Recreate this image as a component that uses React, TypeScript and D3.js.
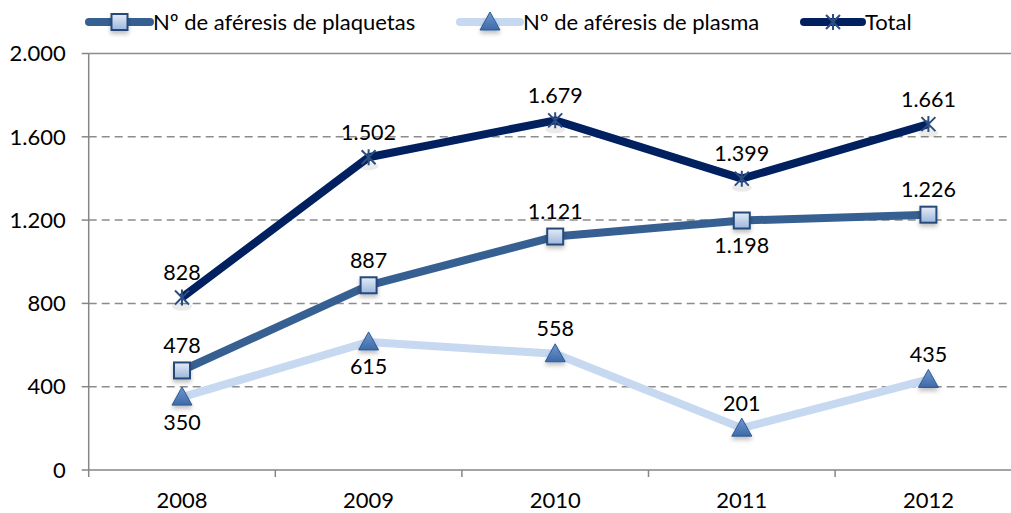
import React, { useEffect, useRef } from 'react';
import * as d3 from 'd3';

const years = ['2008', '2009', '2010', '2011', '2012'];
const plaquetas = [478, 887, 1121, 1198, 1226];
const plasma = [350, 615, 558, 201, 435];
const total = [828, 1502, 1679, 1399, 1661];
const yTicks = [0, 400, 800, 1200, 1600, 2000];

// where each value label sits relative to its point
const plaqLabelPos = ['above', 'above', 'above', 'below', 'above'];
const plasmaLabelPos = ['below', 'below', 'above', 'above', 'above'];
const totalLabelPos = ['above', 'above', 'above', 'above', 'above'];

const fmt = (v: number) => d3.format(',')(v).replace(/,/g, '.');

function App() {
  const svgRef = useRef<SVGSVGElement>(null);

  useEffect(() => {
    const width = 1011;
    const height = 513;
    const svg = d3.select(svgRef.current);
    svg.selectAll('*').remove();
    svg.attr('width', width).attr('height', height);

    const left = 88.7;
    const band = 186.6;
    const x = d3.scaleBand().domain(years).range([left, left + band * years.length]).padding(0);
    const cx = (d: string) => (x(d) as number) + band / 2;
    const y = d3.scaleLinear().domain([0, 2000]).range([470, 53.5]);

    const font = 'Lato, "Open Sans", sans-serif';
    const defs = svg.append('defs');

    const sq = defs.append('linearGradient').attr('id', 'sqGrad').attr('x1', 0).attr('y1', 0).attr('x2', 0).attr('y2', 1);
    sq.append('stop').attr('offset', '0%').attr('stop-color', '#e4ecf7');
    sq.append('stop').attr('offset', '100%').attr('stop-color', '#9bb6dc');
    const tri = defs.append('linearGradient').attr('id', 'triGrad').attr('x1', 0).attr('y1', 0).attr('x2', 0).attr('y2', 1);
    tri.append('stop').attr('offset', '0%').attr('stop-color', '#6f98cf');
    tri.append('stop').attr('offset', '100%').attr('stop-color', '#3d6aa8');
    const sh = defs.append('filter').attr('id', 'shadow').attr('x', '-50%').attr('y', '-50%').attr('width', '200%').attr('height', '200%');
    sh.append('feDropShadow').attr('dx', 0).attr('dy', 3).attr('stdDeviation', 2).attr('flood-color', '#000').attr('flood-opacity', 0.25);

    // grid
    const g = svg.append('g');
    g.selectAll('.grid')
      .data(yTicks.filter(t => t > 0))
      .enter()
      .append('line')
      .attr('x1', left)
      .attr('x2', width)
      .attr('y1', d => y(d))
      .attr('y2', d => y(d))
      .attr('stroke', '#8c8c8c')
      .attr('stroke-width', 1.5)
      .attr('stroke-dasharray', d => (d === 2000 ? null : '8,5'));

    // y axis
    g.append('line').attr('x1', left).attr('x2', left).attr('y1', y(2000)).attr('y2', y(0) + 7)
      .attr('stroke', '#868686').attr('stroke-width', 1.5);
    g.selectAll('.ytick').data(yTicks).enter().append('line')
      .attr('x1', left - 7).attr('x2', left).attr('y1', d => y(d)).attr('y2', d => y(d))
      .attr('stroke', '#868686').attr('stroke-width', 1.5);
    g.selectAll('.ylab').data(yTicks).enter().append('text')
      .attr('x', left - 23).attr('y', d => y(d)).attr('dy', '0.35em')
      .attr('text-anchor', 'end').attr('font-family', font).attr('font-size', 22).attr('fill', '#000')
      .text(d => fmt(d));

    // x axis
    g.append('line').attr('x1', left).attr('x2', width).attr('y1', y(0)).attr('y2', y(0))
      .attr('stroke', '#868686').attr('stroke-width', 1.5);
    g.selectAll('.xtick').data(years.slice(1)).enter().append('line')
      .attr('x1', d => x(d) as number).attr('x2', d => x(d) as number)
      .attr('y1', y(0)).attr('y2', y(0) + 7)
      .attr('stroke', '#868686').attr('stroke-width', 1.5);
    g.selectAll('.xlab').data(years).enter().append('text')
      .attr('x', d => cx(d)).attr('y', 508)
      .attr('text-anchor', 'middle').attr('font-family', font).attr('font-size', 22).attr('fill', '#000')
      .text(d => d);

    const line = d3.line<number>().x((_, i) => cx(years[i])).y(d => y(d));

    const series = [
      { values: plasma, color: '#c6d9f1', marker: 'tri', labels: plasmaLabelPos },
      { values: plaquetas, color: '#376092', marker: 'sq', labels: plaqLabelPos },
      { values: total, color: '#002060', marker: 'star', labels: totalLabelPos },
    ];

    const drawMarker = (sel: any, type: string, px: number, py: number) => {
      if (type === 'sq') {
        sel.append('rect').attr('x', px - 8).attr('y', py - 8).attr('width', 16).attr('height', 16)
          .attr('fill', 'url(#sqGrad)').attr('stroke', '#254a7a').attr('stroke-width', 2).attr('filter', 'url(#shadow)');
      } else if (type === 'tri') {
        sel.append('path').attr('d', `M${px},${py - 10}L${px + 10},${py + 8}L${px - 10},${py + 8}Z`)
          .attr('fill', 'url(#triGrad)').attr('stroke', '#2f5a94').attr('stroke-width', 1).attr('filter', 'url(#shadow)');
      } else {
        const s = 7;
        sel.append('path')
          .attr('d', `M${px - s},${py - s}L${px + s},${py + s}M${px - s},${py + s}L${px + s},${py - s}M${px},${py - s - 1}L${px},${py + s + 1}`)
          .attr('stroke', '#2c4d80').attr('stroke-width', 2).attr('fill', 'none');
      }
    };

    series.forEach(s => {
      const sg = svg.append('g');
      sg.append('path').datum(s.values).attr('d', line)
        .attr('fill', 'none').attr('stroke', s.color).attr('stroke-width', 8).attr('stroke-linejoin', 'round');
      if (s.marker === 'star') {
        sg.selectAll('.sh').data(s.values).enter().append('ellipse')
          .attr('cx', (_, i) => cx(years[i])).attr('cy', d => y(d) + 9).attr('rx', 10).attr('ry', 4)
          .attr('fill', '#000').attr('opacity', 0.08);
      }
      s.values.forEach((v, i) => drawMarker(sg, s.marker, cx(years[i]), y(v)));
    });

    // value labels on top
    series.forEach(s => {
      svg.append('g').selectAll('text').data(s.values).enter().append('text')
        .attr('x', (_, i) => cx(years[i]))
        .attr('y', (d, i) => y(d) + (s.labels[i] === 'above' ? -25 : 25))
        .attr('dy', '0.35em')
        .attr('text-anchor', 'middle').attr('font-family', font).attr('font-size', 21.5).attr('fill', '#000')
        .text(d => fmt(d));
    });

    // legend
    const legend = [
      { label: 'Nº de aféresis de plaquetas', color: '#376092', marker: 'sq', x0: 89, x1: 150 },
      { label: 'Nº de aféresis de plasma', color: '#c6d9f1', marker: 'tri', x0: 460, x1: 520 },
      { label: 'Total', color: '#002060', marker: 'star', x0: 804, x1: 862 },
    ];
    const ly = 22;
    legend.forEach(l => {
      const lg = svg.append('g');
      lg.append('line').attr('x1', l.x0).attr('x2', l.x1).attr('y1', ly).attr('y2', ly)
        .attr('stroke', l.color).attr('stroke-width', 8).attr('stroke-linecap', 'round');
      drawMarker(lg, l.marker, (l.x0 + l.x1) / 2, ly);
      lg.append('text').attr('x', l.x1 + 3).attr('y', ly).attr('dy', '0.35em')
        .attr('font-family', font).attr('font-size', 22).attr('fill', '#000').text(l.label);
    });
  }, []);

  return <svg ref={svgRef} style={{ position: 'absolute', left: 0, top: 0 }}></svg>;
}

export default App;
